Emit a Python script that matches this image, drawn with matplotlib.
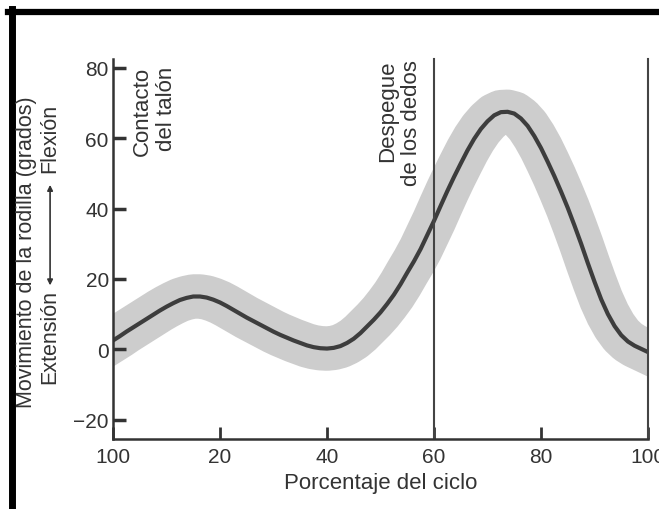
import matplotlib
matplotlib.use("Agg")
import matplotlib.pyplot as plt
from matplotlib.lines import Line2D
from matplotlib.patches import FancyArrowPatch

plt.rcParams['font.family'] = ['Liberation Sans', 'DejaVu Sans']

# Porcentaje del ciclo y flexión media de la rodilla (grados)
ciclo = [0, 1.25, 2.5, 3.75, 5, 6.25, 7.5, 8.75, 10, 11.25, 12.5, 13.75, 15,
         16.25, 17.5, 18.75, 20, 21.25, 22.5, 23.75, 25, 26.25, 27.5, 28.75,
         30, 31.25, 32.5, 33.75, 35, 36.25, 37.5, 38.75, 40, 41.25, 42.5,
         43.75, 45, 46.25, 47.5, 48.75, 50, 51.25, 52.5, 53.75, 55, 56.25,
         57.5, 58.75, 60, 61.25, 62.5, 63.75, 65, 66.25, 67.5, 68.75, 70,
         71.25, 72.5, 73.75, 75, 76.25, 77.5, 78.75, 80, 81.25, 82.5, 83.75,
         85, 86.25, 87.5, 88.75, 90, 91.25, 92.5, 93.75, 95, 96.25, 97.5,
         98.75, 100]
rodilla = [2.5, 3.7, 5, 6.2, 7.4, 8.6, 9.8, 11, 12.1, 13.1, 14, 14.6, 15,
           15, 14.7, 14.1, 13.3, 12.3, 11.2, 10.1, 9, 8, 7, 6,
           5, 4.1, 3.3, 2.5, 1.8, 1.1, 0.6, 0.3, 0.2, 0.4, 0.9,
           1.8, 3, 4.6, 6.5, 8.4, 10.5, 12.9, 15.5, 18.5, 21.8, 25,
           28.5, 32.5, 36.5, 40.8, 45, 49, 52.8, 56.5, 59.8, 62.6, 64.8,
           66.5, 67.4, 67.5, 67, 65.6, 63.5, 60.6, 57.2, 53.3, 49.2, 44.8,
           40.2, 35.2, 30, 24.5, 19.2, 14.2, 10, 6.6, 4, 2.2, 1,
           0.1, -0.8]

x_ticks = [0, 20, 40, 60, 80, 100]
x_labels = ['100', '20', '40', '60', '80', '100']
y_ticks = [-20, 0, 20, 40, 60, 80]
y_labels = ['\u221220', '0', '20', '40', '60', '80']
eventos = [60, 100]

gris = '#333333'

fig = plt.figure(figsize=(6.59, 5.10), dpi=100)
ax = fig.add_axes([0.1715, 0.1373, 0.8118, 0.745])

# banda de variabilidad y curva media
ax.plot(ciclo, rodilla, color='#cdcdcd', linewidth=32, solid_joinstyle='round',
        solid_capstyle='projecting', zorder=1)
ax.plot(ciclo, rodilla, color='#3d3d3d', linewidth=3, solid_joinstyle='round', zorder=2)

for ev in eventos:
    ax.axvline(ev, color='#444444', linewidth=1.5, zorder=3, clip_on=False)

ax.set_xlim(0, 100)
ax.set_ylim(-25.5, 82.5)
ax.set_xticks(x_ticks)
ax.set_xticklabels(x_labels)
ax.set_yticks(y_ticks)
ax.set_yticklabels(y_labels)
ax.tick_params(axis='both', direction='in', colors=gris, labelsize=15,
               labelcolor=gris)
ax.tick_params(axis='y', length=9, width=2.5, pad=3)
ax.tick_params(axis='x', length=9, width=2, pad=6)

ax.spines['top'].set_visible(False)
ax.spines['right'].set_visible(False)
for lado in ['left', 'bottom']:
    ax.spines[lado].set_linewidth(1.8)
    ax.spines[lado].set_color(gris)
    ax.spines[lado].set_zorder(4)

ax.set_xlabel('Porcentaje del ciclo', fontsize=16, color=gris, labelpad=4)

# textos de eventos
ax.text(3.6, 80.5, 'Contacto\ndel talón', rotation=90, ha='left', va='top',
        multialignment='right', fontsize=16, color=gris, linespacing=1.2)
ax.text(57.8, 82.5, 'Despegue\nde los dedos', rotation=90, ha='right', va='top',
        multialignment='right', fontsize=16, color=gris, linespacing=1.2)

# eje y: dos líneas con flecha
fig.text(0.040, 0.506, 'Movimiento de la rodilla (grados)', rotation=90,
         ha='center', va='center', fontsize=15.5, color=gris)
fig.text(0.076, 0.339, 'Extensión', rotation=90, ha='center', va='center',
         fontsize=15.5, color=gris)
fig.text(0.076, 0.729, 'Flexión', rotation=90, ha='center', va='center',
         fontsize=15.5, color=gris)
fig.add_artist(FancyArrowPatch(
    (0.076, 0.433), (0.076, 0.641), transform=fig.transFigure,
    arrowstyle='<|-|>', mutation_scale=8, color=gris, linewidth=1.2))

# marco negro de la figura escaneada
fig.add_artist(Line2D([8 / 659, 1], [1 - 13 / 510, 1 - 13 / 510],
                      transform=fig.transFigure, color='black', linewidth=4.5))
fig.add_artist(Line2D([11.5 / 659, 11.5 / 659], [0, 1 - 10 / 510],
                      transform=fig.transFigure, color='black', linewidth=5))

fig.savefig('out.png', dpi=100)
